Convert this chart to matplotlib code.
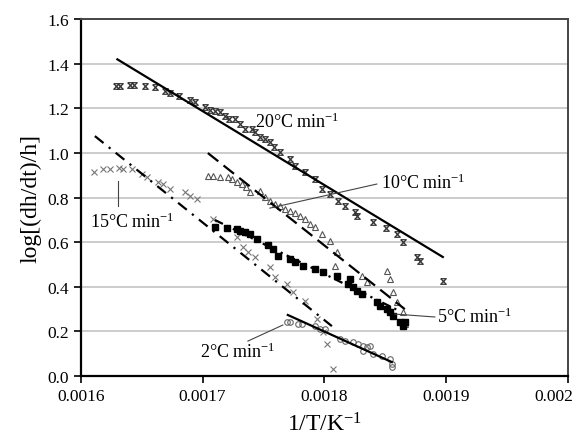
import matplotlib
matplotlib.use("Agg")
import matplotlib.pyplot as plt
import matplotlib.transforms as mtransforms
from matplotlib.ticker import FixedLocator, FixedFormatter

plt.rcParams['font.family'] = ['Liberation Serif', 'DejaVu Serif']
plt.rcParams['mathtext.fontset'] = 'custom'
plt.rcParams['mathtext.rm'] = 'Liberation Serif'
plt.rcParams['mathtext.it'] = 'Liberation Serif:italic'

# --- data ---
x20 = [0.0016287, 0.001632, 0.001640, 0.0016435, 0.001653, 0.001661, 0.001669, 0.001673,
       0.001681, 0.0016895, 0.0016936, 0.001702, 0.001706, 0.001710, 0.001714, 0.001718,
       0.001722, 0.0017265, 0.001731, 0.001735, 0.0017405, 0.001743, 0.001747, 0.001751,
       0.001755, 0.001759, 0.0017635, 0.001772, 0.001776, 0.001784, 0.001792, 0.001798,
       0.0018045, 0.001811, 0.001817, 0.001825, 0.001827, 0.001840, 0.001851, 0.001860,
       0.0018645, 0.001876, 0.0018785, 0.0018973]
y20 = [1.300, 1.300, 1.304, 1.304, 1.300, 1.296, 1.278, 1.269,
       1.256, 1.238, 1.229, 1.206, 1.193, 1.188, 1.184, 1.166,
       1.152, 1.152, 1.130, 1.108, 1.108, 1.094, 1.072, 1.063,
       1.049, 1.027, 1.004, 0.973, 0.942, 0.915, 0.883, 0.839,
       0.816, 0.785, 0.762, 0.735, 0.717, 0.691, 0.664, 0.637,
       0.601, 0.534, 0.516, 0.426]

x10 = [0.0017043, 0.0017084, 0.0017142, 0.0017207, 0.001724, 0.0017281, 0.0017323, 0.0017355,
       0.0017388, 0.001747, 0.0017511, 0.0017552, 0.0017594, 0.0017635, 0.0017676, 0.0017717,
       0.0017758, 0.0017799, 0.001784, 0.0017881, 0.0017922, 0.001798, 0.0018045, 0.0018103,
       0.0018086, 0.0018308, 0.0018349, 0.0018513, 0.0018538, 0.0018563, 0.0018596, 0.0018645,
       0.0018661]
y10 = [0.897, 0.897, 0.892, 0.892, 0.883, 0.870, 0.861, 0.848,
       0.825, 0.830, 0.803, 0.785, 0.771, 0.762, 0.749, 0.740,
       0.731, 0.717, 0.704, 0.682, 0.668, 0.637, 0.605, 0.556,
       0.493, 0.448, 0.422, 0.471, 0.435, 0.377, 0.332, 0.287,
       0.233]

x15 = [0.0016107, 0.0016181, 0.0016238, 0.0016312, 0.0016345, 0.0016419, 0.0016501, 0.0016542,
       0.0016632, 0.0016673, 0.0016731, 0.0016854, 0.0016895, 0.0016953, 0.0017084, 0.0017281,
       0.0017331, 0.0017372, 0.0017429, 0.0017552, 0.0017594, 0.0017692, 0.0017741, 0.001784,
       0.0017939, 0.0017988, 0.0018021, 0.001807]
y15 = [0.915, 0.928, 0.928, 0.933, 0.928, 0.928, 0.904, 0.892,
       0.870, 0.861, 0.839, 0.825, 0.807, 0.794, 0.704, 0.623,
       0.578, 0.556, 0.534, 0.489, 0.444, 0.413, 0.377, 0.336,
       0.256, 0.197, 0.143, 0.031]

x5 = [0.0017101, 0.0017199, 0.0017281, 0.0017306, 0.0017347, 0.0017388, 0.0017446, 0.0017536,
      0.0017577, 0.0017618, 0.0017717, 0.0017758, 0.0017824, 0.0017922, 0.0017988, 0.0018103,
      0.0018209, 0.0018193, 0.0018234, 0.0018267, 0.0018308, 0.0018431, 0.0018456, 0.0018513,
      0.0018538, 0.0018563, 0.001862, 0.0018661, 0.0018645]
y5 = [0.668, 0.664, 0.659, 0.650, 0.646, 0.637, 0.614, 0.587,
      0.570, 0.538, 0.525, 0.511, 0.493, 0.480, 0.466, 0.448,
      0.435, 0.413, 0.399, 0.381, 0.368, 0.332, 0.314, 0.300,
      0.287, 0.269, 0.242, 0.242, 0.224]

x2 = [0.0017692, 0.0017717, 0.0017782, 0.0017815, 0.0017922, 0.0017963, 0.0018004, 0.0018127,
      0.0018168, 0.0018234, 0.0018275, 0.0018316, 0.0018349, 0.0018374, 0.0018316, 0.0018398,
      0.0018472, 0.0018538, 0.0018554, 0.0018554]
y2 = [0.242, 0.242, 0.233, 0.233, 0.224, 0.211, 0.211, 0.166,
      0.157, 0.152, 0.143, 0.135, 0.130, 0.135, 0.112, 0.099,
      0.090, 0.076, 0.054, 0.040]

# fitted lines (end points)
fit20_x, fit20_y = [0.00163, 0.0018973], [1.42, 0.534]
fit10_x, fit10_y = [0.0017043, 0.0018661], [1.000, 0.300]
fit15_x, fit15_y = [0.0016115, 0.0018062], [1.076, 0.224]
fit5_x, fit5_y = [0.0017101, 0.001862], [0.700, 0.291]
fit2_x, fit2_y = [0.00177, 0.0018554], [0.274, 0.063]

xticks = [0.0016, 0.0017, 0.0018, 0.0019, 0.002]
xtick_labels = ["0.0016", "0.0017", "0.0018", "0.0019", "0.002"]
yticks = [0.0, 0.2, 0.4, 0.6, 0.8, 1.0, 1.2, 1.4, 1.6]

fig = plt.figure(figsize=(5.86, 4.39), dpi=100)
ax = fig.add_axes([0.138, 0.141, 0.831, 0.813])

hourglass = [(-1, 1), (1, 1), (-1, -1), (1, -1), (-1, 1)]

ax.plot(x20, y20, ls="none", marker=hourglass, ms=4, mfc="none", mec="#333333", mew=0.9)
ax.plot(x10, y10, ls="none", marker="^", ms=4, mfc="none", mec="#555555", mew=0.8)
ax.plot(x15, y15, ls="none", marker="x", ms=4.5, mec="#777777", mew=0.8)
ax.plot(x5, y5, ls="none", marker="s", ms=4.5, mfc="black", mec="black")
ax.plot(x2, y2, ls="none", marker="o", ms=4, mfc="none", mec="#666666", mew=0.8)

ax.plot(fit20_x, fit20_y, color="black", lw=1.6)
ax.plot(fit10_x, fit10_y, color="black", lw=1.6, ls=(0, (6, 3)))
ax.plot(fit15_x, fit15_y, color="black", lw=1.6, ls=(0, (5, 3, 1, 3)))
ax.plot(fit5_x, fit5_y, color="black", lw=1.6, ls=(0, (4, 2, 1, 2, 1, 2)))
ax.plot(fit2_x, fit2_y, color="black", lw=1.6)

# labels with leader lines
lab_kw = dict(fontsize=13, va="center", ha="left")
ax.text(0.001743, 1.143, "20°C min$^{-1}$", **lab_kw)
ax.text(0.0018464, 0.870, "10°C min$^{-1}$", **lab_kw)
ax.plot([0.0017552, 0.0018431], [0.753, 0.861], color="#444444", lw=0.8)
ax.text(0.0016074, 0.695, "15°C min$^{-1}$", **lab_kw)
ax.plot([0.0016304, 0.0016304], [0.874, 0.762], color="#444444", lw=0.8)
ax.text(0.0018924, 0.269, "5°C min$^{-1}$", **lab_kw)
ax.plot([0.0018579, 0.0018908], [0.278, 0.265], color="#444444", lw=0.8)
ax.text(0.0016977, 0.112, "2°C min$^{-1}$", **lab_kw)
ax.plot([0.0017372, 0.0017659], [0.157, 0.229], color="#444444", lw=0.8)

ax.set_xlim(0.0016, 0.002)
ax.set_ylim(0.0, 1.6)
ax.xaxis.set_major_locator(FixedLocator(xticks))
ax.xaxis.set_major_formatter(FixedFormatter(xtick_labels))
ax.set_yticks(yticks)
ax.set_yticklabels([f"{v:.1f}" for v in yticks])
ax.tick_params(axis="both", labelsize=12.5, direction="out", length=5, width=1.2)

# last x tick label sits a bit left so it stays inside the picture
last = ax.get_xticklabels()[-1]
last.set_transform(last.get_transform() +
                   mtransforms.ScaledTranslation(-10 / 72, 0, fig.dpi_scale_trans))

ax.grid(axis="y", color="#c8c8c8", lw=1.3)
ax.set_axisbelow(True)
for s in ["left", "bottom"]:
    ax.spines[s].set_linewidth(1.6)
    ax.spines[s].set_color("black")
for s in ["top", "right"]:
    ax.spines[s].set_linewidth(1.4)
    ax.spines[s].set_color("#444444")

ax.set_xlabel("1/T/K$^{-1}$", fontsize=17, labelpad=6)
ax.set_ylabel("log[(dh/dt)/h]", fontsize=17, labelpad=4)

fig.savefig("out.png", dpi=100)
